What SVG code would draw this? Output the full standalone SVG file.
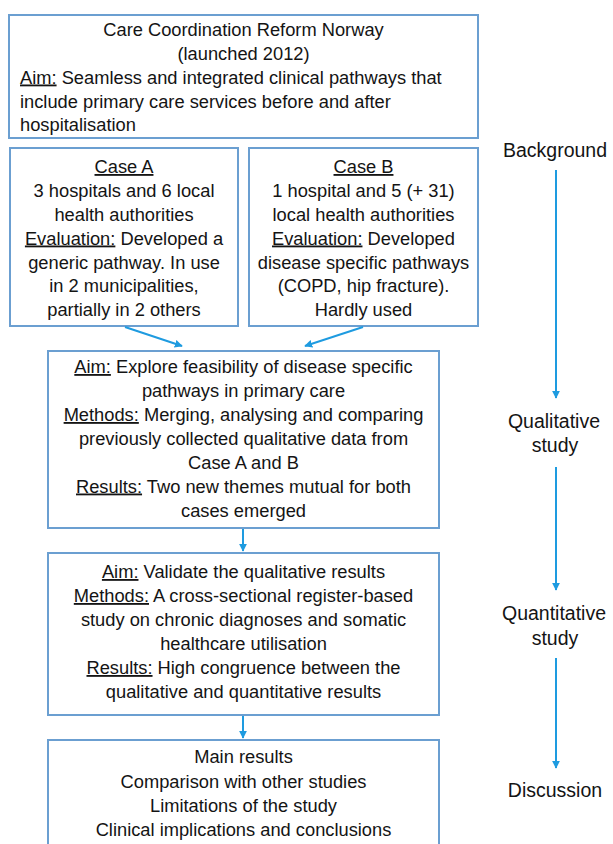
<svg xmlns="http://www.w3.org/2000/svg" width="613" height="844" viewBox="0 0 613 844">
<defs>
<style>
.box{fill:#fff;stroke:#6b9fd1;stroke-width:2}
.t{font-family:"Liberation Sans",Arial,sans-serif;font-size:18.3px;fill:#141414}
.r{font-size:19.5px}
.c{text-anchor:middle}
.u{text-decoration:underline}
.ar{stroke:#1e9be0;stroke-width:2;fill:none}
</style>
<marker id="ah" viewBox="0 0 10 10" refX="9" refY="5" markerWidth="4" markerHeight="4" orient="auto" markerUnits="strokeWidth">
<path d="M0,0 L10,5 L0,10 Z" fill="#1e9be0"/>
</marker>
</defs>
<rect width="613" height="844" fill="#fff"/>
<g id="reform">
<rect class="box" x="9" y="15" width="469" height="123"/>
<text class="t c" x="243.5" y="35.5">Care Coordination Reform Norway</text>
<text class="t c" x="243.5" y="59.5">(launched 2012)</text>
<text class="t" x="20" y="83.5"><tspan class="u">Aim:</tspan> Seamless and integrated clinical pathways that</text>
<text class="t" x="20" y="107.5">include primary care services before and after</text>
<text class="t" x="20" y="131">hospitalisation</text>
</g>
<g id="caseA">
<rect class="box" x="10" y="148" width="228" height="178"/>
<text class="t c" x="124" y="173"><tspan class="u">Case A</tspan></text>
<text class="t c" x="124" y="197">3 hospitals and 6 local</text>
<text class="t c" x="124" y="221">health authorities</text>
<text class="t c" x="124" y="244.5"><tspan class="u">Evaluation:</tspan> Developed a</text>
<text class="t c" x="124" y="268.5">generic pathway. In use</text>
<text class="t c" x="124" y="292">in 2 municipalities,</text>
<text class="t c" x="124" y="316">partially in 2 others</text>
</g>
<g id="caseB">
<rect class="box" x="249" y="148" width="229" height="178"/>
<text class="t c" x="363.5" y="173"><tspan class="u">Case B</tspan></text>
<text class="t c" x="363.5" y="197">1 hospital and 5 (+ 31)</text>
<text class="t c" x="363.5" y="221">local health authorities</text>
<text class="t c" x="363.5" y="244.5"><tspan class="u">Evaluation:</tspan> Developed</text>
<text class="t c" x="363.5" y="268.5">disease specific pathways</text>
<text class="t c" x="363.5" y="292">(COPD, hip fracture).</text>
<text class="t c" x="363.5" y="316">Hardly used</text>
</g>
<g id="qualitative">
<rect class="box" x="48" y="351" width="391" height="177"/>
<text class="t c" x="243.5" y="373"><tspan class="u">Aim:</tspan> Explore feasibility of disease specific</text>
<text class="t c" x="243.5" y="397">pathways in primary care</text>
<text class="t c" x="243.5" y="421"><tspan class="u">Methods:</tspan> Merging, analysing and comparing</text>
<text class="t c" x="243.5" y="445">previously collected qualitative data from</text>
<text class="t c" x="243.5" y="469">Case A and B</text>
<text class="t c" x="243.5" y="492.5"><tspan class="u">Results:</tspan> Two new themes mutual for both</text>
<text class="t c" x="243.5" y="516.5">cases emerged</text>
</g>
<g id="quantitative">
<rect class="box" x="48" y="553" width="391" height="162"/>
<text class="t c" x="243.5" y="578"><tspan class="u">Aim:</tspan> Validate the qualitative results</text>
<text class="t c" x="243.5" y="602"><tspan class="u">Methods:</tspan> A cross-sectional register-based</text>
<text class="t c" x="243.5" y="626">study on chronic diagnoses and somatic</text>
<text class="t c" x="243.5" y="650">healthcare utilisation</text>
<text class="t c" x="243.5" y="674"><tspan class="u">Results:</tspan> High congruence between the</text>
<text class="t c" x="243.5" y="698">qualitative and quantitative results</text>
</g>
<g id="discussion">
<rect class="box" x="48" y="740" width="391" height="115"/>
<text class="t c" x="243.5" y="763">Main results</text>
<text class="t c" x="243.5" y="787.5">Comparison with other studies</text>
<text class="t c" x="243.5" y="811.5">Limitations of the study</text>
<text class="t c" x="243.5" y="836">Clinical implications and conclusions</text>
</g>
<g id="lbl-background"><text class="t r c" x="555" y="157">Background</text></g>
<g id="lbl-qualitative"><text class="t r c" x="554" y="428">Qualitative</text><text class="t r c" x="555" y="452">study</text></g>
<g id="lbl-quantitative"><text class="t r c" x="554" y="620">Quantitative</text><text class="t r c" x="555" y="645">study</text></g>
<g id="lbl-discussion"><text class="t r c" x="555" y="797">Discussion</text></g>
<g id="connectors">
<line class="ar" x1="125" y1="327" x2="182" y2="346" marker-end="url(#ah)"/>
<line class="ar" x1="363" y1="327" x2="305" y2="346" marker-end="url(#ah)"/>
<line class="ar" x1="243" y1="529" x2="243" y2="551" marker-end="url(#ah)"/>
<line class="ar" x1="243" y1="716" x2="243" y2="738" marker-end="url(#ah)"/>
<line class="ar" x1="556" y1="170" x2="556" y2="398" marker-end="url(#ah)"/>
<line class="ar" x1="556" y1="467" x2="556" y2="590" marker-end="url(#ah)"/>
<line class="ar" x1="556" y1="658" x2="556" y2="768" marker-end="url(#ah)"/>
</g>
</svg>
